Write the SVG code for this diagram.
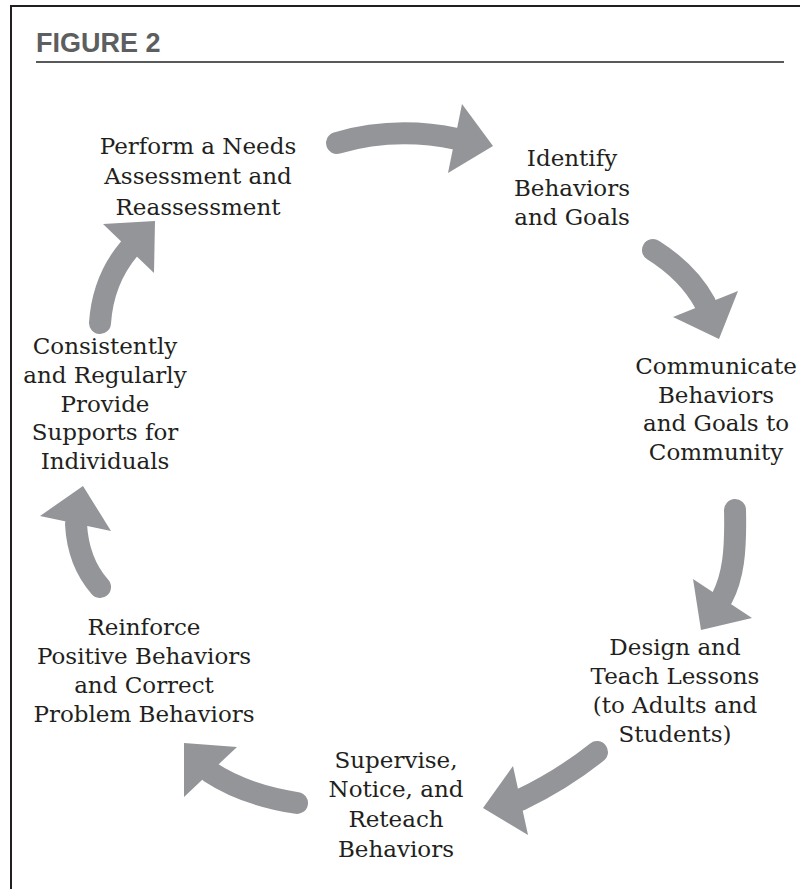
<svg xmlns="http://www.w3.org/2000/svg" width="800" height="889" viewBox="0 0 800 889">
  <style>
    .frame { stroke: #231f20; stroke-width: 2; fill: none; }
    .rule { stroke: #58595b; stroke-width: 2; fill: none; }
    .title { font-family: "Liberation Sans", Arial, sans-serif; font-weight: bold; font-size: 27px; fill: #5d5e60; }
    .label { font-family: "DejaVu Serif", "Liberation Serif", serif; font-size: 23px; fill: #231f20; text-anchor: middle; }
    .shaft { stroke: #939598; stroke-width: 22; stroke-linecap: round; fill: none; }
    .head { fill: #939598; }
  </style>

  <rect width="800" height="889" fill="#ffffff"/>

  <!-- page frame: top and left rules -->
  <path class="frame" d="M 11 889 V 6 H 800"/>
  <text class="title" x="36" y="52">FIGURE 2</text>
  <line class="rule" x1="36" y1="62" x2="784" y2="62"/>

  <!-- cycle steps -->
  <g id="needs-assessment">
    <text class="label"><tspan x="198" y="154">Perform a Needs</tspan><tspan x="198" y="184">Assessment and</tspan><tspan x="198" y="215">Reassessment</tspan></text>
  </g>
  <g id="identify-behaviors">
    <text class="label"><tspan x="572" y="166">Identify</tspan><tspan x="572" y="196">Behaviors</tspan><tspan x="572" y="225">and Goals</tspan></text>
  </g>
  <g id="communicate">
    <text class="label"><tspan x="716" y="374">Communicate</tspan><tspan x="716" y="403">Behaviors</tspan><tspan x="716" y="431">and Goals to</tspan><tspan x="716" y="460">Community</tspan></text>
  </g>
  <g id="design-teach">
    <text class="label"><tspan x="675" y="655">Design and</tspan><tspan x="675" y="684">Teach Lessons</tspan><tspan x="675" y="713">(to Adults and</tspan><tspan x="675" y="742">Students)</tspan></text>
  </g>
  <g id="supervise">
    <text class="label"><tspan x="396" y="768">Supervise,</tspan><tspan x="396" y="797">Notice, and</tspan><tspan x="396" y="827">Reteach</tspan><tspan x="396" y="857">Behaviors</tspan></text>
  </g>
  <g id="reinforce">
    <text class="label"><tspan x="144" y="635">Reinforce</tspan><tspan x="144" y="664">Positive Behaviors</tspan><tspan x="144" y="693">and Correct</tspan><tspan x="144" y="722">Problem Behaviors</tspan></text>
  </g>
  <g id="supports">
    <text class="label"><tspan x="105" y="354">Consistently</tspan><tspan x="105" y="383">and Regularly</tspan><tspan x="105" y="412">Provide</tspan><tspan x="105" y="440">Supports for</tspan><tspan x="105" y="469">Individuals</tspan></text>
  </g>

  <!-- curved arrows between steps -->
  <g id="connectors">
    <path class="shaft" d="M 337 143 Q 395 126 457 139"/>
    <polygon class="head" points="462,104 493,146 448,173"/>

    <path class="shaft" d="M 653 250 Q 688 272 705 303"/>
    <polygon class="head" points="673,317 738,291 719,339"/>

    <path class="shaft" d="M 735 510 C 736 552 733 577 722 598"/>
    <polygon class="head" points="693,579 752,618 701,630"/>

    <path class="shaft" d="M 597 752 Q 562 780 520 800"/>
    <polygon class="head" points="513,766 483,808 528,835"/>

    <path class="shaft" d="M 297 803 Q 245 795 210 772"/>
    <polygon class="head" points="237,747 184,743 184,797"/>

    <path class="shaft" d="M 100 587 Q 78 562 76 524"/>
    <polygon class="head" points="40,516 83,486 111,531"/>

    <path class="shaft" d="M 100 323 Q 103 280 129 249"/>
    <polygon class="head" points="103,224 155,221 154,273"/>
  </g>
</svg>
